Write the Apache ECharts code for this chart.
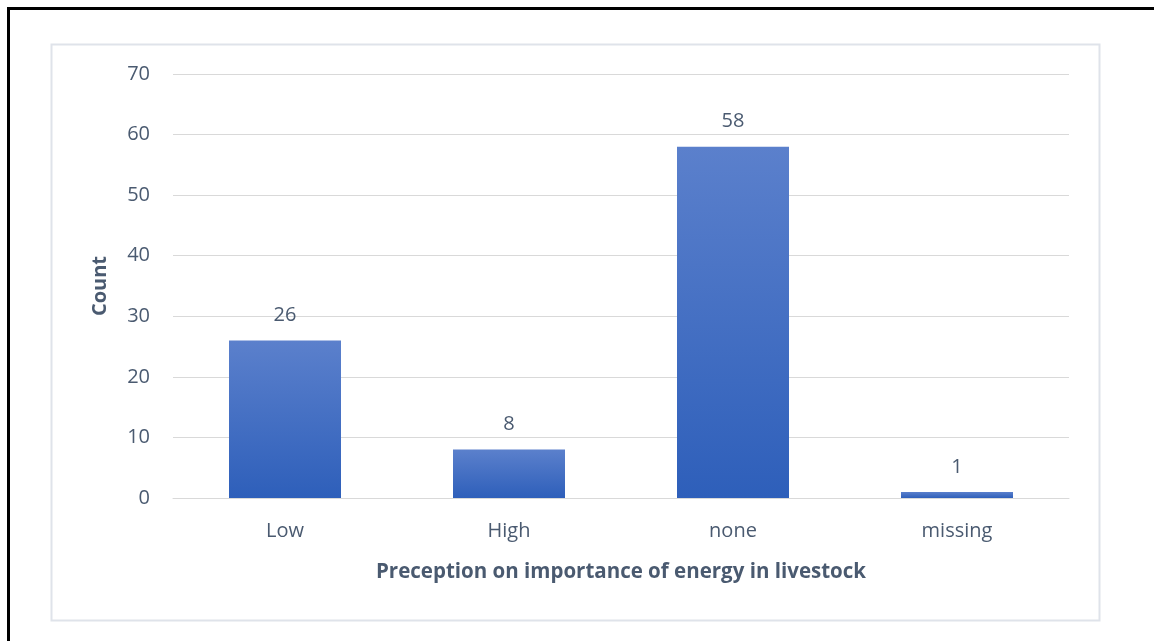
<!DOCTYPE html>
<html>
<head>
<meta charset="utf-8">
<script src="https://cdn.jsdelivr.net/npm/echarts@6/dist/echarts.min.js"></script>
<style>
  html, body { margin: 0; padding: 0; background: #ffffff; }
  #chart { width: 1154px; height: 641px; }
</style>
</head>
<body>
<div id="chart"></div>
<script>
// Survey responses: perception on importance of energy in livestock
const categories = ['Low', 'High', 'none', 'missing'];
const counts = [26, 8, 58, 1];
const yTicks = { min: 0, max: 70, interval: 10 };

const textColor = '#4a5a70';
const fontFamily = '"Open Sans", "Noto Sans", sans-serif';

const chart = echarts.init(document.getElementById('chart'));
chart.setOption({
  backgroundColor: '#ffffff',
  animation: false,
  graphic: [
    {
      type: 'rect',
      shape: { x: 8.5, y: 8.5, width: 1200, height: 700 },
      style: { fill: 'none', stroke: '#000000', lineWidth: 3 },
      silent: true
    },
    {
      type: 'rect',
      shape: { x: 51.5, y: 44.5, width: 1048, height: 576 },
      style: { fill: 'none', stroke: '#dfe3ea', lineWidth: 2 },
      silent: true
    }
  ],
  grid: { left: 173, right: 85, top: 74, bottom: 143, containLabel: false },
  xAxis: {
    type: 'category',
    data: categories,
    name: 'Preception on importance of energy in livestock',
    nameLocation: 'middle',
    nameGap: 64,
    nameTextStyle: { color: textColor, fontSize: 20.5, fontWeight: 'bold', fontFamily },
    axisLine: { lineStyle: { color: '#d9d9d9', width: 1 } },
    axisTick: { show: false },
    axisLabel: { color: textColor, fontSize: 20, fontFamily, margin: 23 }
  },
  yAxis: {
    type: 'value',
    min: yTicks.min,
    max: yTicks.max,
    interval: yTicks.interval,
    name: 'Count',
    nameLocation: 'middle',
    nameGap: 63,
    nameRotate: 90,
    nameTextStyle: { color: textColor, fontSize: 20, fontWeight: 'bold', fontFamily },
    axisLine: { show: false },
    axisTick: { show: false },
    axisLabel: { color: textColor, fontSize: 20, fontFamily, margin: 23 },
    splitLine: { lineStyle: { color: '#d9d9d9', width: 1 } }
  },
  series: [{
    type: 'bar',
    data: counts,
    barWidth: '50%',
    itemStyle: {
      color: new echarts.graphic.LinearGradient(0, 0, 0, 1, [
        { offset: 0, color: '#5b80cc' },
        { offset: 1, color: '#2e5fba' }
      ])
    },
    label: {
      show: true,
      position: 'top',
      distance: 15,
      color: textColor,
      fontSize: 20,
      fontFamily
    }
  }]
});
</script>
</body>
</html>
